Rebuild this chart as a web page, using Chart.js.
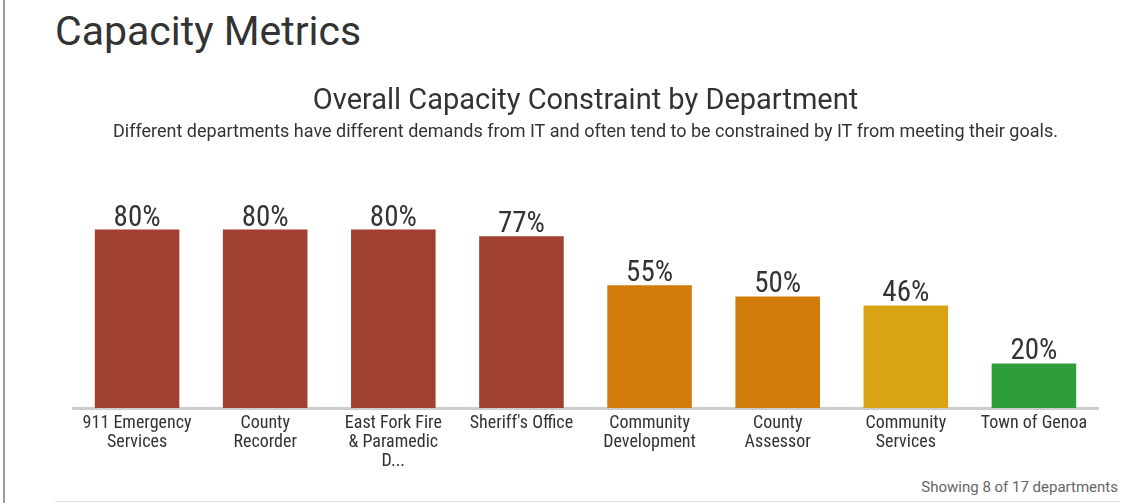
<!DOCTYPE html>
<html>
<head>
<meta charset="utf-8">
<script src="https://cdn.jsdelivr.net/npm/chart.js"></script>
<style>
  body { margin: 0; background: #fff; font-family: Roboto, "Noto Sans", sans-serif; }
  .edge { position: absolute; left: 3px; top: 0; width: 2px; height: 503px; background: #9a9a9a; }
  h1 { position: absolute; left: 55px; top: 7px; margin: 0; font-weight: 400; font-size: 41px; color: #333; }
  .wrap { position: absolute; left: 55px; top: 80px; width: 1070px; height: 389px; }
  .note { position: absolute; right: 25px; top: 478px; font-size: 15px; color: #666; }
  .rule { position: absolute; left: 55px; top: 501px; width: 1065px; height: 1px; background: #ddd; }
</style>
</head>
<body>
<div class="edge"></div>
<h1>Capacity Metrics</h1>
<div class="wrap"><canvas id="myChart"></canvas></div>
<div class="note">Showing 8 of 17 departments</div>
<div class="rule"></div>
<script>
const departments = [
    ['911 Emergency', 'Services'],
    ['County', 'Recorder'],
    ['East Fork Fire', '& Paramedic', 'D...'],
    "Sheriff's Office",
    ['Community', 'Development'],
    ['County', 'Assessor'],
    ['Community', 'Services'],
    'Town of Genoa'
];
const constraint = [80, 80, 80, 77, 55, 50, 46, 20];
const barColors = ['#a04031', '#a04031', '#a04031', '#a04031', '#d07b0a', '#d07b0a', '#d9a313', '#2d9e3a'];

const narrow = '"Liberation Sans Narrow", "Roboto Condensed", Roboto, sans-serif';

const valueLabels = {
    id: 'valueLabels',
    afterDatasetsDraw(chart) {
        const c = chart.ctx;
        c.save();
        c.font = '29px ' + narrow;
        c.fillStyle = '#333';
        c.textAlign = 'center';
        c.textBaseline = 'alphabetic';
        chart.getDatasetMeta(0).data.forEach((bar, i) => {
            c.fillText(constraint[i] + '%', bar.x, bar.y - 4);
        });
        c.restore();
    }
};

const ctx = document.getElementById('myChart');
new Chart(ctx, {
    type: 'bar',
    data: {
        labels: departments,
        datasets: [{
            label: 'Capacity constraint',
            data: constraint,
            backgroundColor: barColors,
            categoryPercentage: 1,
            barPercentage: 0.66
        }]
    },
    options: {
        responsive: true,
        maintainAspectRatio: false,
        animation: false,
        layout: { padding: { left: 18, right: 27, top: 0, bottom: 0 } },
        plugins: {
            legend: { display: false },
            tooltip: { enabled: false },
            title: {
                display: true,
                text: 'Overall Capacity Constraint by Department',
                color: '#333',
                font: { family: 'Roboto', size: 29, weight: 'normal' },
                padding: { top: 4, bottom: 1 }
            },
            subtitle: {
                display: true,
                text: 'Different departments have different demands from IT and often tend to be constrained by IT from meeting their goals.',
                color: '#333',
                font: { family: 'Roboto', size: 18 },
                padding: { top: 2, bottom: 41.5 }
            }
        },
        scales: {
            x: {
                grid: { display: false },
                border: { display: true, color: '#cccccc', width: 3 },
                ticks: {
                    color: '#333',
                    font: { family: narrow, size: 18, lineHeight: 1.055 },
                    padding: -2,
                    maxRotation: 0,
                    autoSkip: false
                }
            },
            y: {
                display: false,
                min: 0,
                max: 100
            }
        }
    },
    plugins: [valueLabels]
});
</script>
</body>
</html>
